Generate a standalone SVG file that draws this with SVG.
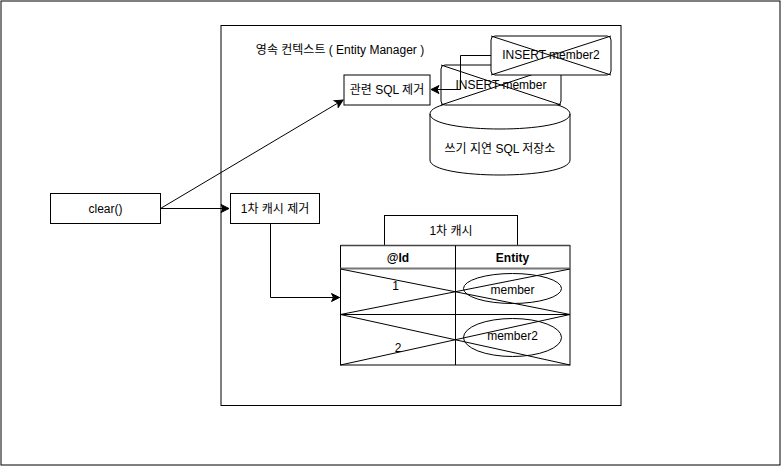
<svg xmlns="http://www.w3.org/2000/svg" width="781" height="466" viewBox="0 0 781 466">
<style>
.box{fill:#fff;stroke:#000;stroke-width:1}
.ln{fill:none;stroke:#000;stroke-width:1}
.t{font-family:"Liberation Sans","Noto Sans CJK KR",Arial,sans-serif;font-size:12px;fill:#000;text-anchor:middle;dominant-baseline:central}
.b{font-weight:bold}
</style>
<defs>
<marker id="arr" markerUnits="userSpaceOnUse" markerWidth="10" markerHeight="10" viewBox="0 0 10 10" refX="9" refY="5" orient="auto">
<path d="M1,1 L9,5 L1,9 L3,5 Z" fill="#000" stroke="#000" stroke-width="1"/>
</marker>
</defs>
<rect x="0" y="0" width="781" height="466" fill="#fff"/>
<g id="frame"><rect x="1" y="1" width="779" height="464" class="box" stroke-width="1.5"/></g>
<g id="context">
<rect x="221" y="25.5" width="400" height="380" class="box"/>
<text class="t" x="340" y="50">영속 컨텍스트 ( Entity Manager )</text>
</g>
<g id="store">
<path class="box" d="M430,114 C430,94 570,94 570,114 L570,160 C570,180 430,180 430,160 Z"/>
<path class="ln" d="M430,114 C430,134 570,134 570,114"/>
<text class="t" x="500" y="149">쓰기 지연 SQL 저장소</text>
</g>
<g id="insert-member">
<rect x="441" y="65" width="120" height="40" rx="4" class="box"/>
<path class="ln" d="M441,65 L561,105 M441,105 L561,65"/>
<text class="t" x="501" y="85">INSERT member</text>
</g>
<g id="insert-member2">
<rect x="491" y="36" width="120" height="39" rx="4" class="box"/>
<path class="ln" d="M491,36 L611,75 M491,75 L611,36"/>
<text class="t" x="551" y="55">INSERT member2</text>
</g>
<g id="remove-sql">
<rect x="344" y="75" width="86" height="30" class="box"/>
<text class="t" x="387" y="90">관련 SQL 제거</text>
</g>
<g id="clear">
<rect x="50.5" y="193.5" width="110" height="30" class="box"/>
<text class="t" x="105.5" y="208.5">clear()</text>
</g>
<g id="remove-cache">
<rect x="230.5" y="193.5" width="89" height="30" class="box"/>
<text class="t" x="275" y="208.5">1차 캐시 제거</text>
</g>
<g id="cache-title">
<rect x="384.5" y="215.5" width="133" height="30" class="box"/>
<text class="t" x="451" y="230.5">1차 캐시</text>
</g>
<g id="cache-table">
<rect x="340.5" y="245.5" width="229.5" height="119.5" class="box"/>
<line x1="340.5" y1="268.5" x2="570" y2="268.5" stroke="#777" stroke-width="2"/>
<line x1="340.5" y1="245.5" x2="570" y2="245.5" stroke="#444" stroke-width="1.5"/>
<line x1="455.5" y1="245.5" x2="455.5" y2="365" class="ln"/>
<line x1="340.5" y1="314.5" x2="570" y2="314.5" class="ln"/>
<text class="t b" x="398" y="257.5">@Id</text>
<text class="t b" x="512.5" y="257.5">Entity</text>
<text class="t" x="395.5" y="286">1</text>
<text class="t" x="398" y="348">2</text>
<ellipse cx="512.5" cy="288.5" rx="49" ry="15" class="ln"/>
<text class="t" x="512.5" y="290">member</text>
<ellipse cx="512.5" cy="337.5" rx="49" ry="19" class="ln"/>
<text class="t" x="512.5" y="336">member2</text>
<path class="ln" d="M340.5,269 L570,314.5 M340.5,314.5 L570,269 M340.5,314.5 L570,365 M340.5,365 L570,314.5"/>
</g>
<g id="connectors">
<path class="ln" d="M160.5,208.5 L229,208.5" marker-end="url(#arr)"/>
<path class="ln" d="M160.5,208.5 L343,100" marker-end="url(#arr)"/>
<path class="ln" d="M270.5,223.5 L270.5,297.5 L339.5,297.5" marker-end="url(#arr)"/>
<path class="ln" d="M491,55.5 L460.5,55.5 L460.5,89.5 L431,89.5" marker-end="url(#arr)"/>
</g>
</svg>
